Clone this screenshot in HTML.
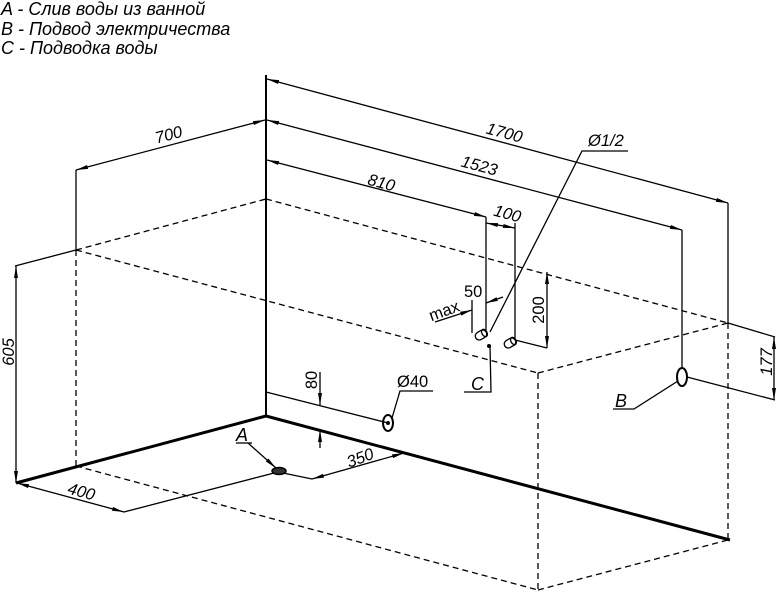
<!DOCTYPE html>
<html><head><meta charset="utf-8"><style>
html,body{margin:0;padding:0;background:#fff;}
svg{display:block;}
text{font-family:"Liberation Sans","DejaVu Sans",sans-serif;font-style:italic;fill:#000;}
</style></head><body>
<svg width="778" height="592" viewBox="0 0 778 592" xmlns="http://www.w3.org/2000/svg">
<defs>
<marker id="a" viewBox="0 0 12 4" refX="12" refY="2" markerWidth="12" markerHeight="4" orient="auto-start-reverse" markerUnits="userSpaceOnUse"><path d="M0,0 L12,2 L0,4 z" fill="#000"/></marker>
</defs>
<g font-size="18">
<text x="1" y="15">A - Слив воды из ванной</text>
<text x="1" y="35">B - Подвод электричества</text>
<text x="1" y="54">C - Подводка воды</text>
</g>
<g stroke="#000" fill="none" stroke-width="1.3">
<g stroke-dasharray="6,4">
<line x1="76" y1="250" x2="266" y2="199"/>
<line x1="266" y1="199" x2="728" y2="323"/>
<line x1="76" y1="250" x2="538" y2="373"/>
<line x1="538" y1="373" x2="728" y2="323"/>
<line x1="538" y1="373" x2="538" y2="590"/>
<line x1="728" y1="323" x2="728" y2="540"/>
<line x1="76" y1="250" x2="76" y2="466"/>
<line x1="76" y1="466" x2="538" y2="590"/>
<line x1="538" y1="590" x2="728" y2="540"/>
</g>
<line x1="266" y1="75" x2="266" y2="416" stroke-width="2"/>
<line x1="266" y1="416" x2="16" y2="483" stroke-width="3"/>
<line x1="266" y1="416" x2="730" y2="540" stroke-width="3"/>
<line x1="76" y1="170" x2="76" y2="250"/>
<line x1="15" y1="266" x2="76" y2="250"/>
<line x1="728" y1="203" x2="728" y2="323"/>
<line x1="682" y1="230" x2="682" y2="368"/>
<line x1="728" y1="323" x2="775" y2="337"/>
<line x1="687" y1="377" x2="775" y2="400"/>
<line x1="486" y1="217" x2="486" y2="332"/>
<line x1="515" y1="223" x2="515" y2="340"/>
<line x1="515" y1="340" x2="547" y2="348"/>
<line x1="472" y1="300" x2="472" y2="333"/>
<line x1="266" y1="392" x2="388" y2="423"/>
<line x1="124" y1="512" x2="278" y2="472"/>
<line x1="283" y1="473" x2="312" y2="479"/>
<line x1="76" y1="170" x2="265" y2="120" marker-start="url(#a)" marker-end="url(#a)"/>
<line x1="267" y1="79" x2="728" y2="203" marker-start="url(#a)" marker-end="url(#a)"/>
<line x1="267" y1="120" x2="682" y2="230" marker-start="url(#a)" marker-end="url(#a)"/>
<line x1="267" y1="160" x2="486" y2="217" marker-start="url(#a)" marker-end="url(#a)"/>
<line x1="486" y1="223" x2="515" y2="228" marker-start="url(#a)" marker-end="url(#a)"/>
<line x1="16" y1="266" x2="16" y2="483" marker-start="url(#a)" marker-end="url(#a)"/>
<line x1="17" y1="483" x2="124" y2="512" marker-start="url(#a)" marker-end="url(#a)"/>
<line x1="312" y1="479" x2="404" y2="453" marker-start="url(#a)" marker-end="url(#a)"/>
<line x1="547" y1="272" x2="547" y2="348" marker-start="url(#a)" marker-end="url(#a)"/>
<line x1="774" y1="337" x2="774" y2="400" marker-start="url(#a)" marker-end="url(#a)"/>
<line x1="320" y1="372" x2="320" y2="405" marker-end="url(#a)"/>
<line x1="320" y1="448" x2="320" y2="430" marker-end="url(#a)"/>
<line x1="435" y1="322" x2="472" y2="310" marker-end="url(#a)"/>
<line x1="503" y1="297" x2="486" y2="303" marker-end="url(#a)"/>
<polyline points="490,332 582,151 628,151"/>
<polyline points="392,418 400,391 433,391"/>
<polyline points="490,346 491,392 464,392"/>
<polyline points="678,381 634,409 613,409"/>
<polyline points="248,443 276,468" marker-end="url(#a)"/>
<line x1="236" y1="443" x2="252" y2="443"/>
<ellipse cx="388" cy="423" rx="5" ry="8" stroke-width="2"/>
<circle cx="388" cy="423" r="1.3" fill="#000"/>
<ellipse cx="682" cy="377" rx="5" ry="9" stroke-width="2"/>
<ellipse cx="279" cy="471" rx="7" ry="3.5" fill="#333" stroke-width="1.5"/>
<g transform="translate(481,335) rotate(-30)"><rect x="-6" y="-4" width="12" height="8" rx="4"/><ellipse cx="4" cy="0" rx="2.5" ry="4"/></g>
<g transform="translate(510,343) rotate(-30)"><rect x="-6" y="-4" width="12" height="8" rx="4"/><ellipse cx="4" cy="0" rx="2.5" ry="4"/></g>
</g>
<circle cx="489" cy="346" r="2" fill="#000"/>
<g font-size="16.5">
<text transform="translate(170,140) rotate(-15)" text-anchor="middle">700</text>
<text transform="translate(503,138) rotate(15)" text-anchor="middle">1700</text>
<text transform="translate(478,171) rotate(15)" text-anchor="middle">1523</text>
<text transform="translate(380,188) rotate(15)" text-anchor="middle">810</text>
<text transform="translate(506,219) rotate(15)" text-anchor="middle">100</text>
<text x="588" y="146">Ø1/2</text>
<text transform="translate(446,316) rotate(-20)" text-anchor="middle" style="font-style:normal">max</text>
<text x="464" y="297" style="font-style:normal">50</text>
<text transform="translate(544,310) rotate(-90)" text-anchor="middle" style="font-style:normal">200</text>
<text transform="translate(772,362) rotate(-90)" text-anchor="middle">177</text>
<text transform="translate(317,380) rotate(-90)" text-anchor="middle" style="font-style:normal">80</text>
<text transform="translate(14,352) rotate(-90)" text-anchor="middle">605</text>
<text transform="translate(80,497) rotate(15)" text-anchor="middle">400</text>
<text transform="translate(362,463) rotate(-20)" text-anchor="middle">350</text>
<text x="397" y="387" style="font-style:normal">Ø40</text>
<text x="471" y="390" font-size="18">C</text>
<text x="615" y="407" font-size="18">B</text>
<text x="236" y="441" font-size="18">A</text>
</g>
</svg>
</body></html>
